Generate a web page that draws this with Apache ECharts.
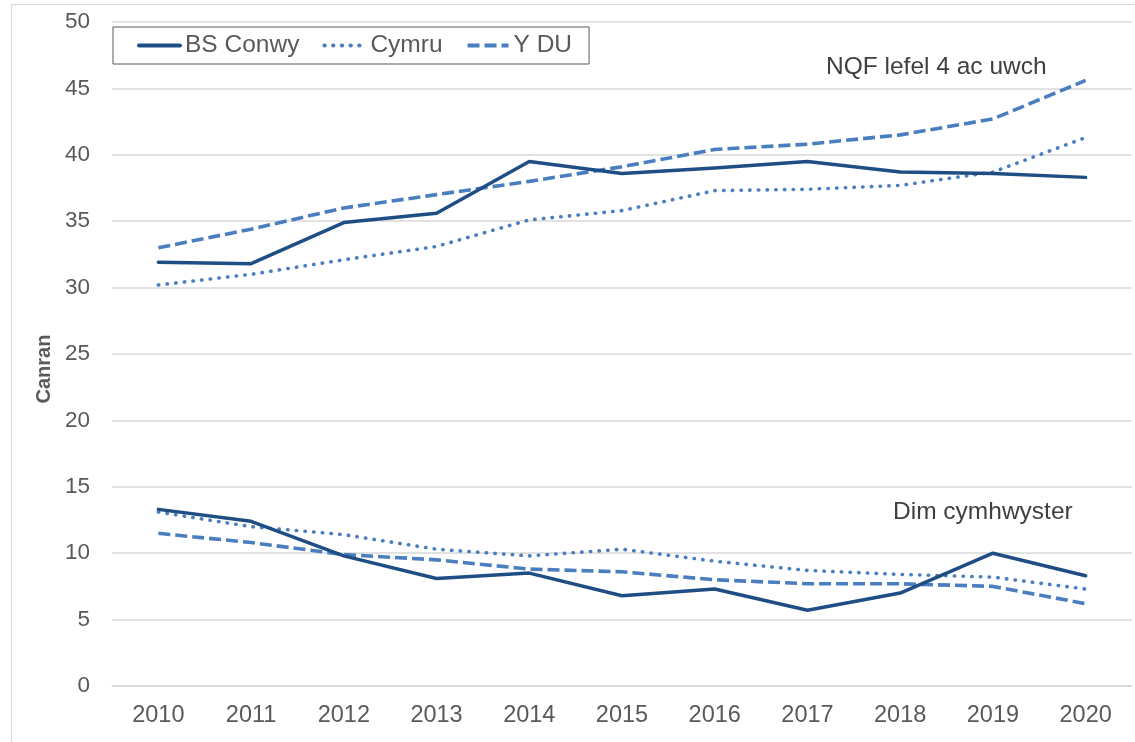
<!DOCTYPE html>
<html>
<head>
<meta charset="utf-8">
<script src="https://cdn.jsdelivr.net/npm/echarts@6/dist/echarts.min.js"></script>
<style>
  html, body { margin: 0; padding: 0; background: #fff; }
  #chart { width: 1135px; height: 742px; }
  #frame { position: absolute; left: 11px; top: 4px; width: 1140px; height: 760px; border: 1px solid #d9d9d9; pointer-events: none; }
</style>
</head>
<body>
<div id="chart"></div>
<div id="frame"></div>
<script>
const years = ['2010', '2011', '2012', '2013', '2014', '2015', '2016', '2017', '2018', '2019', '2020'];

// NQF lefel 4 ac uwch
const conwyNqf4 = [31.9, 31.8, 34.9, 35.6, 39.5, 38.6, 39.0, 39.5, 38.7, 38.6, 38.3];
const cymruNqf4 = [30.2, 31.0, 32.1, 33.1, 35.1, 35.8, 37.3, 37.4, 37.7, 38.7, 41.3];
const ukNqf4 = [33.0, 34.4, 36.0, 37.0, 38.0, 39.1, 40.4, 40.8, 41.5, 42.7, 45.6];

// Dim cymhwyster
const conwyNone = [13.3, 12.4, 9.8, 8.1, 8.5, 6.8, 7.3, 5.7, 7.0, 10.0, 8.3];
const cymruNone = [13.1, 12.0, 11.4, 10.3, 9.8, 10.3, 9.4, 8.7, 8.4, 8.2, 7.3];
const ukNone = [11.5, 10.8, 9.9, 9.5, 8.8, 8.6, 8.0, 7.7, 7.7, 7.5, 6.2];

const DARK = '#1f4e84';
const LIGHT = '#4a7ebf';
const FONT = '"Liberation Sans", Arial, sans-serif';

const solid = { color: DARK, width: 3.5, type: 'solid', cap: 'round', join: 'round' };
const dotted = { color: LIGHT, width: 3.6, type: [0.4, 8.3], cap: 'round' };
const dashed = { color: LIGHT, width: 3.6, type: [12, 5] };

function line(name, data, style) {
  return {
    name: name,
    type: 'line',
    data: data,
    symbol: 'none',
    color: style.color,
    lineStyle: style,
    z: style === solid ? 3 : 2
  };
}

const chart = echarts.init(document.getElementById('chart'));
chart.setOption({
  animation: false,
  textStyle: { fontFamily: FONT },
  grid: { left: 112, right: 3, top: 22, bottom: 56 },
  legend: {
    data: ['BS Conwy', 'Cymru', 'Y DU'],
    left: 113,
    top: 27,
    borderColor: '#595959',
    borderWidth: 1,
    padding: [6, 17, 6, 24],
    itemWidth: 41,
    itemHeight: 14,
    itemGap: 23,
    itemStyle: { opacity: 0 },
    lineStyle: { width: 4 },
    textStyle: { fontFamily: FONT, fontSize: 24.5, color: '#595959' }
  },
  xAxis: {
    type: 'category',
    data: years,
    boundaryGap: true,
    axisLine: { lineStyle: { color: '#d9d9d9', width: 1.5 } },
    axisTick: { show: false },
    axisLabel: { fontFamily: FONT, fontSize: 23.5, color: '#595959', margin: 18 }
  },
  yAxis: {
    type: 'value',
    min: 0,
    max: 50,
    interval: 5,
    name: 'Canran',
    nameLocation: 'middle',
    nameGap: 58,
    nameTextStyle: { fontFamily: FONT, fontSize: 20, fontWeight: 'bold', color: '#595959', padding: [0, 0, 0, -30] },
    axisLine: { show: false },
    axisTick: { show: false },
    splitLine: { lineStyle: { color: '#d9d9d9', width: 1.5 } },
    axisLabel: { fontFamily: FONT, fontSize: 22.5, color: '#595959', margin: 22 }
  },
  graphic: [
    { type: 'text', left: 826, top: 55, style: { text: 'NQF lefel 4 ac uwch', font: '24.5px ' + FONT, fill: '#404040' } },
    { type: 'text', left: 893, top: 500, style: { text: 'Dim cymhwyster', font: '24.5px ' + FONT, fill: '#404040' } }
  ],
  series: [
    line('BS Conwy', conwyNqf4, solid),
    line('Cymru', cymruNqf4, dotted),
    line('Y DU', ukNqf4, dashed),
    line('BS Conwy', conwyNone, solid),
    line('Cymru', cymruNone, dotted),
    line('Y DU', ukNone, dashed)
  ]
});
</script>
</body>
</html>
